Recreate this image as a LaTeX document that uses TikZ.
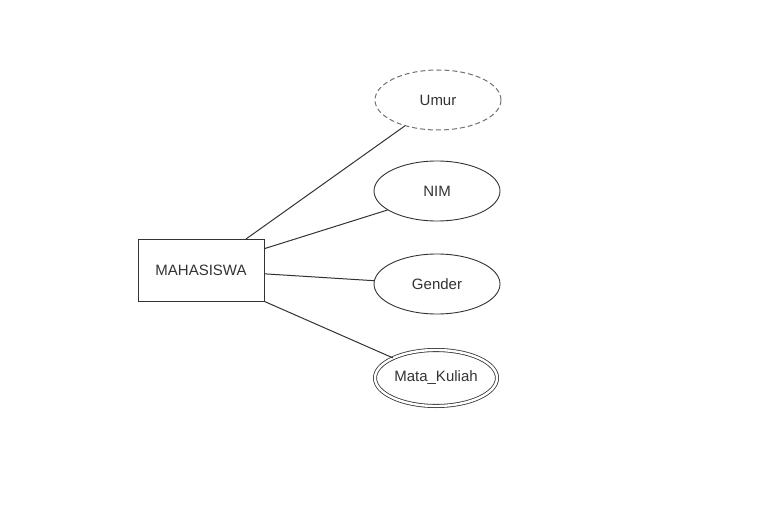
\documentclass[tikz,border=0pt]{standalone}
\usepackage{fontspec}
\setmainfont{Liberation Sans}
\usetikzlibrary{shapes.geometric}
\definecolor{ink}{HTML}{333333}
\definecolor{dashink}{HTML}{707070}
\begin{document}
\begin{tikzpicture}[x=1pt,y=-1pt,
  txt/.style={font=\fontsize{15}{18}\selectfont, text=ink},
  entity/.style={txt, draw=ink, line width=1pt, minimum width=126pt, minimum height=62pt, inner sep=0pt},
  attr/.style={txt, ellipse, draw=ink, line width=0.9pt, minimum width=126pt, minimum height=60pt, inner sep=0pt},
  dashattr/.style={attr, draw=dashink, line width=1pt, dash pattern=on 5pt off 3pt},
  multiattr/.style={attr, double, double distance=2.4pt, line width=0.8pt, minimum width=122pt, minimum height=56pt},
  link/.style={draw=ink, line width=1pt}]
\useasboundingbox (0,0) rectangle (757,513);
\node[entity] (m) at (201,270.5) {MAHASISWA};
\node[dashattr] (umur) at (438,100) {Umur};
\node[attr] (nim) at (437,191) {NIM};
\node[attr] (gender) at (437,284) {Gender};
\node[multiattr] (mk) at (436,378) {Mata\_Kuliah};
\draw[link] (m.35.6) -- (umur.218);
\draw[link] (m.19) -- (nim.201);
\draw[link] (m.357.7) -- (gender.177.2);
\draw[link] (m.334.7) -- (mk.155.4);
\end{tikzpicture}
\end{document}
